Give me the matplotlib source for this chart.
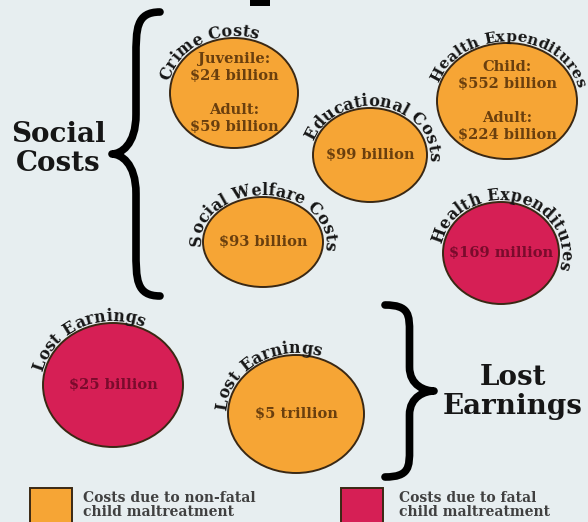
import numpy as np
import matplotlib
matplotlib.use('Agg')
import matplotlib.pyplot as plt
from matplotlib.patches import Ellipse, Rectangle, PathPatch
from matplotlib.path import Path
from matplotlib.font_manager import FontProperties, findfont, get_font

# ---- data ------------------------------------------------------------------
labels = ['Crime Costs', 'Educational Costs', 'Health Expenditures',
          'Social Welfare Costs', 'Health Expenditures',
          'Lost Earnings', 'Lost Earnings']
values = ['Juvenile:\n$24 billion\n\nAdult:\n$59 billion',
          '$99 billion',
          'Child:\n$552 billion\n\nAdult:\n$224 billion',
          '$93 billion',
          '$169 million',
          '$25 billion',
          '$5 trillion']
kinds = ['non-fatal', 'non-fatal', 'non-fatal', 'non-fatal',
         'fatal', 'fatal', 'non-fatal']
groups = ['Social\nCosts', 'Lost\nEarnings']
legend_labels = ['Costs due to non-fatal\nchild maltreatment',
                 'Costs due to fatal\nchild maltreatment']

# ---- layout (pixels, y down) -----------------------------------------------
centers = [(234, 93), (370, 155), (507, 101), (263, 242), (501, 253),
           (113, 385), (296, 414)]
radii = [(64, 55), (57, 47), (70, 58), (60, 45), (58, 51), (70, 62), (68, 59)]
arc_mid = [117, 80, 88, 88, 78, 115, 121]
arc_size = [11.5, 11.5, 11, 11.5, 11.5, 11.5, 11.5]

bg = '#e7eef0'
fill = {'non-fatal': '#f6a535', 'fatal': '#d61f55'}
ink = {'non-fatal': '#6a3f0e', 'fatal': '#7a0b2c'}
edge = '#3a2814'
SERIF = 'DejaVu Serif'

fig = plt.figure(figsize=(5.88, 5.22), dpi=100, facecolor=bg)
ax = fig.add_axes([0, 0, 1, 1])
ax.set_xlim(0, 588)
ax.set_ylim(522, 0)
ax.set_facecolor(bg)
ax.axis('off')


def arc_text(ax, s, cx, cy, a, b, mid, size):
    prop = FontProperties(family=SERIF, weight='bold', size=size)
    font = get_font(findfont(prop))
    font.set_size(size, 100)
    adv = np.array([font.load_char(ord(c)).linearHoriAdvance / 65536 for c in s])
    t = np.radians(np.linspace(mid + 180, mid - 180, 3601))
    x = cx + a * np.cos(t)
    y = cy - b * np.sin(t)
    L = np.concatenate([[0], np.cumsum(np.hypot(np.diff(x), np.diff(y)))])
    L -= L[1800]
    pos = np.cumsum(adv) - adv / 2 - adv.sum() / 2
    for c, p in zip(s, pos):
        ti = np.interp(p, L, t)
        rot = np.degrees(np.arctan2(-b * np.cos(ti), a * np.sin(ti)))
        ax.text(cx + a * np.cos(ti), cy - b * np.sin(ti), c, rotation=rot,
                rotation_mode='anchor', ha='center', va='baseline',
                fontproperties=prop, color='#161616')


def brace(ax, x_end, x_tip, y_top, y_bot, lw):
    h = y_bot - y_top
    ym = (y_top + y_bot) / 2
    xs = (x_end + x_tip) / 2
    xt = x_tip + (xs - x_tip) * 0.35
    verts = [(x_end, y_top), (xs, y_top), (xs, y_top + 0.06 * h), (xs, y_top + 0.16 * h),
             (xs, ym - 0.14 * h),
             (xs, ym - 0.03 * h), (xt, ym), (x_tip, ym),
             (xt, ym), (xs, ym + 0.03 * h), (xs, ym + 0.14 * h),
             (xs, y_bot - 0.16 * h),
             (xs, y_bot - 0.06 * h), (xs, y_bot), (x_end, y_bot)]
    codes = [Path.MOVETO, Path.CURVE4, Path.CURVE4, Path.CURVE4, Path.LINETO,
             Path.CURVE4, Path.CURVE4, Path.CURVE4, Path.CURVE4, Path.CURVE4,
             Path.CURVE4, Path.LINETO, Path.CURVE4, Path.CURVE4, Path.CURVE4]
    ax.add_patch(PathPatch(Path(verts, codes), fill=False, lw=lw,
                           edgecolor='black', capstyle='round', joinstyle='round'))


# bottom of a cut-off title letter at the very top edge
ax.add_patch(Rectangle((250, -2), 20, 8, facecolor='black', edgecolor='none'))

# bubbles
for lab, val, kind, (cx, cy), (rx, ry), mid, fs in zip(labels, values, kinds,
                                                        centers, radii, arc_mid,
                                                        arc_size):
    ax.add_patch(Ellipse((cx, cy), 2 * rx, 2 * ry, facecolor=fill[kind],
                         edgecolor=edge, lw=1.4))
    lines = val.split('\n')
    for i, ln in enumerate(lines):
        yy = cy + (i - (len(lines) - 1) / 2) * 17
        ax.text(cx, yy, ln, ha='center', va='center', family=SERIF,
                fontweight='bold', fontsize=10.5, color=ink[kind])
    arc_text(ax, lab, cx, cy, rx + 2, ry + 2, mid, fs)

# braces and group titles
brace(ax, 160, 112, 12, 296, 5.5)
brace(ax, 385, 434, 305, 477, 5.5)
ax.text(58, 149, groups[0], ha='center', va='center', family=SERIF,
        fontweight='bold', fontsize=20, color='#161616', linespacing=1.1)
ax.text(513, 392, groups[1], ha='center', va='center', family=SERIF,
        fontweight='bold', fontsize=20, color='#161616', linespacing=1.1)

# legend
for (x0, tx), kind, txt in zip([(30, 83), (341, 399)], ['non-fatal', 'fatal'],
                               legend_labels):
    ax.add_patch(Rectangle((x0, 488), 42, 40, facecolor=fill[kind],
                           edgecolor=edge, lw=1.4))
    ax.text(tx, 505, txt, ha='left', va='center', family=SERIF,
            fontweight='bold', fontsize=10, color='#404040', linespacing=1.05)

fig.savefig('out.png', dpi=100, facecolor=bg)
